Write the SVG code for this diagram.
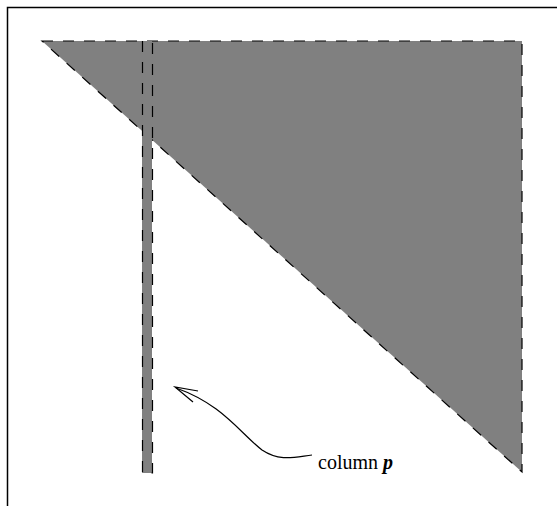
<svg xmlns="http://www.w3.org/2000/svg" width="557" height="506" viewBox="0 0 557 506">
<style>
.dash{fill:none;stroke:#000;stroke-width:1.2;stroke-dasharray:11,10}
.fill{fill:#808080;stroke:none}
.lbl{font-family:"Liberation Serif",serif;font-size:20px;fill:#000}
</style>
<rect width="557" height="506" fill="#fff"/>
<g id="frame"><path d="M7.5,506 V7.5 H557" fill="none" stroke="#000" stroke-width="1.5"/></g>
<g id="triangle">
<polygon class="fill" points="42,41 522,41 522,472"/>
<polygon class="dash" points="42,41 522,41 522,472"/>
</g>
<g id="column">
<rect class="fill" x="142" y="41" width="10" height="432"/>
<path class="dash" d="M142.5,41 V473 H152.5 V41"/>
</g>
<g id="connectors">
<path d="M312,455 C295,457 280,462 262,450 C240,433 222,404 176,388" fill="none" stroke="#000" stroke-width="1.2"/>
<path d="M198,391 L175,387 L193,402" fill="none" stroke="#000" stroke-width="1.2"/>
</g>
<g id="label"><text class="lbl" x="318" y="469">column <tspan font-weight="bold" font-style="italic">p</tspan></text></g>
</svg>
